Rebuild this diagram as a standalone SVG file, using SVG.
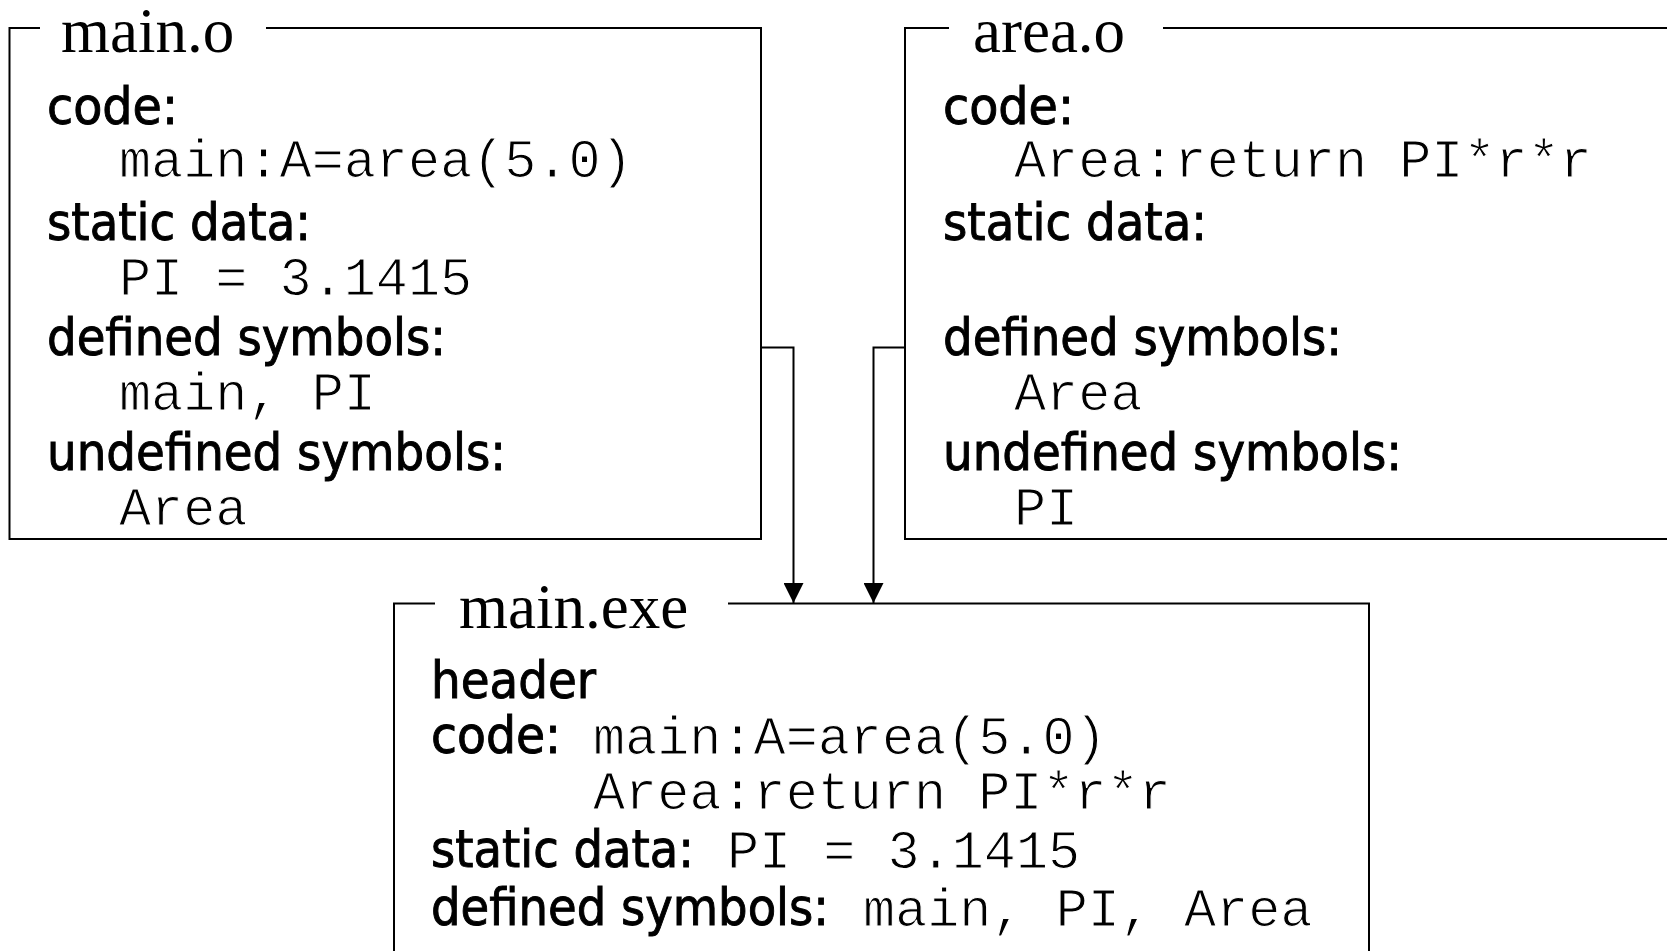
<svg xmlns="http://www.w3.org/2000/svg" width="1667" height="951" viewBox="0 0 1667 951">
<style>
.frame{fill:none;stroke:#000;stroke-width:2}
.conn{fill:none;stroke:#000;stroke-width:2}
.title{font-family:"Liberation Serif","Times New Roman",serif;font-size:63px;fill:#000}
.sans{font-family:"DejaVu Sans Condensed","DejaVu Sans",sans-serif;font-size:52px;fill:#000;stroke:#000;stroke-width:0.9px}
.mono{font-family:"Liberation Mono","Courier New",monospace;font-size:53.5px;fill:#000;stroke:#fff;stroke-width:1.1px}
</style>
<defs>
<marker id="arrow" markerWidth="20" markerHeight="20" refX="20" refY="10" orient="auto" markerUnits="userSpaceOnUse" viewBox="0 0 20 20">
<path d="M0,0 L20,10 L0,20 Z" fill="#000"/>
</marker>
</defs>
<rect width="1667" height="951" fill="#fff"/>
<g id="main_o">
<path class="frame" d="M40,28 H9.5 V539 H761 V28 H266"/>
<text class="title" x="61" y="52">main.o</text>
<text class="sans" x="47" y="124" textLength="131" lengthAdjust="spacingAndGlyphs">code:</text>
<text class="mono" x="119" y="177">main:A=area(5.0)</text>
<text class="sans" x="47" y="240" textLength="264" lengthAdjust="spacingAndGlyphs">static data:</text>
<text class="mono" x="119" y="295">PI = 3.1415</text>
<text class="sans" x="47" y="355" textLength="399" lengthAdjust="spacingAndGlyphs">defined symbols:</text>
<text class="mono" x="119" y="410">main, PI</text>
<text class="sans" x="47" y="470" textLength="459" lengthAdjust="spacingAndGlyphs">undefined symbols:</text>
<text class="mono" x="119" y="525">Area</text>
</g>
<g id="area_o">
<path class="frame" d="M949,28 H905 V539 H1680 M1680,28 H1163"/>
<text class="title" x="973" y="52">area.o</text>
<text class="sans" x="943" y="124" textLength="131" lengthAdjust="spacingAndGlyphs">code:</text>
<text class="mono" x="1014" y="177">Area:return PI*r*r</text>
<text class="sans" x="943" y="240" textLength="264" lengthAdjust="spacingAndGlyphs">static data:</text>
<text class="sans" x="943" y="355" textLength="399" lengthAdjust="spacingAndGlyphs">defined symbols:</text>
<text class="mono" x="1014" y="410">Area</text>
<text class="sans" x="943" y="470" textLength="459" lengthAdjust="spacingAndGlyphs">undefined symbols:</text>
<text class="mono" x="1014" y="525">PI</text>
</g>
<g id="main_exe">
<path class="frame" d="M435,603.5 H394 V960 M728,603.5 H1369 V960"/>
<text class="title" x="459" y="628">main.exe</text>
<text class="sans" x="431" y="698" textLength="165" lengthAdjust="spacingAndGlyphs">header</text>
<text class="sans" x="431" y="753" textLength="130" lengthAdjust="spacingAndGlyphs">code:</text>
<text class="mono" x="593" y="754">main:A=area(5.0)</text>
<text class="mono" x="593" y="809">Area:return PI*r*r</text>
<text class="sans" x="431" y="867" textLength="263" lengthAdjust="spacingAndGlyphs">static data:</text>
<text class="mono" x="727" y="868">PI = 3.1415</text>
<text class="sans" x="431" y="925" textLength="398" lengthAdjust="spacingAndGlyphs">defined symbols:</text>
<text class="mono" x="863" y="926">main, PI, Area</text>
</g>
<g id="connectors">
<path class="conn" d="M761,347.5 H793.5 V603" marker-end="url(#arrow)"/>
<path class="conn" d="M905,347.5 H873.5 V603" marker-end="url(#arrow)"/>
</g>
</svg>
